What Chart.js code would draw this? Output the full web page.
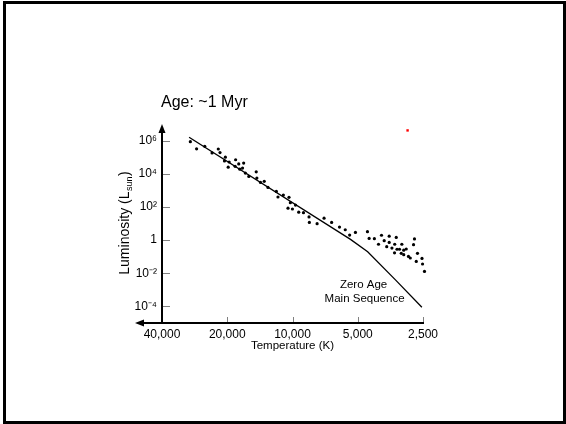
<!DOCTYPE html>
<html>
<head>
<meta charset="utf-8">
<script src="https://cdn.jsdelivr.net/npm/chart.js@4.4.1/dist/chart.umd.min.js"></script>
<style>
    html, body { margin: 0; padding: 0; background: #fff; }
    #wrap { position: relative; width: 566px; height: 424px; overflow: hidden; }
    #marco { position: absolute; left: 3px; top: 1px; width: 563px; height: 423px; box-sizing: border-box; border: 3px solid #000; }
    #hr { position: absolute; left: 0; top: 0; }
</style>
</head>
<body>
<div id="wrap">
    <div id="marco"></div>
    <canvas id="hr" width="566" height="424"></canvas>
</div>
<script>
// Cluster stars: surface temperature (K) and luminosity (L_sun)
const starTemps = [
    29600, 27700, 25400, 23500, 22000, 21600, 20400, 20600, 19600, 19800,
    18300, 18400, 17700, 17500, 16800, 17000, 16500, 15900, 14700, 14600,
    14050, 13500, 12980, 11870, 11670, 11020, 10380, 10230, 10490, 10010,
    9690, 9360, 8900, 8390, 8360, 7700, 7150, 6600, 6070, 5710,
    5450, 5125, 4510, 4430, 4190, 4010, 3885, 3775, 3580, 3580,
    3675, 3477, 3322, 3376, 3294, 3383, 3130, 3208, 3150, 3068,
    3068, 2987, 2918, 2862, 2737, 2764, 2651, 2685, 2527, 2512,
    2461, 2314, 2234, 2309, 2277
];
const starLums = [
    8.6e5, 3.2e5, 4.5e5, 1.8e5, 3.1e5, 1.9e5, 1.0e5, 5.9e4, 5.1e4, 2.5e4,
    7.0e4, 2.8e4, 3.9e4, 1.9e4, 4.4e4, 2.2e4, 1.1e4, 6.9e3, 1.3e4, 5.5e3,
    3.0e3, 3.5e3, 1.5e3, 860, 395, 520, 380, 180, 84, 75,
    130, 48, 45, 25, 11.6, 9.7, 21, 11.6, 6.1, 4.2,
    2.0, 2.9, 3.2, 1.26, 1.21, 0.56, 1.96, 0.92, 1.71, 0.72,
    0.40, 0.33, 1.45, 0.56, 0.28, 0.17, 0.56, 0.28, 0.16, 0.245,
    0.131, 0.29, 0.103, 0.083, 1.17, 0.525, 0.16, 0.052, 0.078, 0.036,
    0.0129, 0.122, 0.185, 0.0247, 0.0091
];

// Zero age main sequence
const zamsTemps = [30000, 5400, 4500, 3350, 2530];
const zamsLums = [1.6e6, 1.1, 0.2, 4e-3, 9e-5];

// Red marker
const markerTemps = [2945];
const markerLums = [4.1e6];

// Axis ticks
const tempTicks = [40000, 20000, 10000, 5000, 2500];
const lumTicks = [1e-4, 1e-2, 1, 1e2, 1e4, 1e6];
const lumTickLabels = ['10⁻⁴', '10⁻²', '1', '10²', '10⁴', '10⁶'];

const FUENTE = 'Arial, "Liberation Sans", Helvetica, sans-serif';

function puntos(xs, ys) {
    return xs.map((x, i) => ({ x: x, y: ys[i] }));
}

// Axes with arrows, inner tick marks, title and labels
const ejesPlugin = {
    id: 'ejesHR',
    afterDatasetsDraw(chart) {
        const ctx = chart.ctx;
        const a = chart.chartArea;
        const xs = chart.scales.x;
        const ys = chart.scales.y;
        const x0 = Math.round(a.left);
        const y0 = Math.round(a.bottom);
        ctx.save();

        // tick marks pointing into the plot
        ctx.strokeStyle = '#808080';
        ctx.lineWidth = 1;
        ctx.beginPath();
        lumTicks.forEach(v => {
            const py = Math.round(ys.getPixelForValue(v)) + 0.5;
            ctx.moveTo(x0, py);
            ctx.lineTo(x0 + 8, py);
        });
        tempTicks.slice(1).forEach(v => {
            const px = Math.round(xs.getPixelForValue(v)) + 0.5;
            ctx.moveTo(px, y0 - 6);
            ctx.lineTo(px, y0);
        });
        ctx.stroke();

        // vertical axis
        ctx.fillStyle = '#000';
        ctx.fillRect(x0 - 1, a.top + 6, 2, y0 - a.top - 5);
        // horizontal axis
        ctx.fillRect(x0 - 20, y0 - 1, Math.round(a.right) - x0 + 21, 2);

        // arrow heads
        ctx.beginPath();
        ctx.moveTo(x0, a.top);
        ctx.lineTo(x0 - 3.5, a.top + 9);
        ctx.lineTo(x0 + 3.5, a.top + 9);
        ctx.closePath();
        ctx.fill();
        ctx.beginPath();
        ctx.moveTo(x0 - 27, y0);
        ctx.lineTo(x0 - 18, y0 - 3.5);
        ctx.lineTo(x0 - 18, y0 + 3.5);
        ctx.closePath();
        ctx.fill();
        ctx.restore();
    },
    afterDraw(chart) {
        const ctx = chart.ctx;
        const a = chart.chartArea;
        const xs = chart.scales.x;
        const ys = chart.scales.y;
        ctx.save();
        ctx.fillStyle = '#000';

        // title
        ctx.font = '16px ' + FUENTE;
        ctx.textAlign = 'left';
        ctx.textBaseline = 'middle';
        ctx.fillText('Age: ~1 Myr', a.left - 1, a.top - 21);

        // y axis title with subscript
        ctx.translate(a.left - 33, (a.top + a.bottom) / 2);
        ctx.rotate(-Math.PI / 2);
        ctx.textBaseline = 'alphabetic';
        ctx.font = '14px ' + FUENTE;
        const t1 = 'Luminosity (L';
        const t3 = ')';
        const w1 = ctx.measureText(t1).width;
        const w3 = ctx.measureText(t3).width;
        ctx.font = '9px ' + FUENTE;
        const t2 = 'sun';
        const w2 = ctx.measureText(t2).width;
        const inicio = -(w1 + w2 + w3) / 2;
        ctx.font = '14px ' + FUENTE;
        ctx.fillText(t1, inicio, 0);
        ctx.font = '9px ' + FUENTE;
        ctx.fillText(t2, inicio + w1 + 0.5, 3);
        ctx.font = '14px ' + FUENTE;
        ctx.fillText(t3, inicio + w1 + w2 + 1, 0);
        ctx.setTransform(1, 0, 0, 1, 0, 0);

        // ZAMS label
        const lx = xs.getPixelForValue(4700);
        const ly = ys.getPixelForValue(2e-3);
        ctx.font = '11.5px ' + FUENTE;
        ctx.textAlign = 'center';
        ctx.textBaseline = 'middle';
        ctx.fillText('Zero Age', lx, ly);
        ctx.fillText('Main Sequence', lx + 1, ly + 14);
        ctx.restore();
    }
};

new Chart(document.getElementById('hr'), {
    type: 'scatter',
    data: {
        datasets: [{
            label: 'Zero Age Main Sequence',
            type: 'line',
            data: puntos(zamsTemps, zamsLums),
            borderColor: '#000',
            borderWidth: 1.3,
            pointRadius: 0,
            fill: false,
            tension: 0,
            clip: false
        }, {
            label: 'Stars',
            data: puntos(starTemps, starLums),
            backgroundColor: '#000',
            borderWidth: 0,
            pointRadius: 1.6,
            clip: false
        }, {
            label: 'Marker',
            data: puntos(markerTemps, markerLums),
            backgroundColor: '#ff0000',
            borderWidth: 0,
            pointStyle: 'rect',
            pointRadius: 1.7,
            clip: false
        }]
    },
    options: {
        responsive: false,
        animation: false,
        events: [],
        layout: {
            padding: { left: 112, right: 143, top: 124, bottom: 71 }
        },
        plugins: {
            legend: { display: false },
            tooltip: { enabled: false }
        },
        scales: {
            x: {
                type: 'logarithmic',
                reverse: true,
                min: 2500,
                max: 40000,
                grid: { display: false, drawTicks: false },
                border: { display: false },
                afterBuildTicks: function(scale) {
                    scale.ticks = tempTicks.map(v => ({ value: v }));
                },
                afterFit: function(scale) {
                    scale.height = 30;
                },
                ticks: {
                    autoSkip: false,
                    maxRotation: 0,
                    padding: 4,
                    color: '#000',
                    font: { family: FUENTE, size: 12 },
                    callback: function(value) {
                        return Number(value).toLocaleString('en-US');
                    }
                },
                title: {
                    display: true,
                    text: 'Temperature (K)',
                    color: '#000',
                    font: { family: FUENTE, size: 11.5 },
                    padding: 0
                }
            },
            y: {
                type: 'logarithmic',
                min: 1e-5,
                max: 1e7,
                grid: { display: false, drawTicks: false },
                border: { display: false },
                afterBuildTicks: function(scale) {
                    scale.ticks = lumTicks.map(v => ({ value: v }));
                },
                afterFit: function(scale) {
                    scale.width = 50;
                },
                ticks: {
                    autoSkip: false,
                    padding: 5,
                    color: '#000',
                    font: { family: FUENTE, size: 12 },
                    callback: function(value) {
                        const i = lumTicks.indexOf(value);
                        return i >= 0 ? lumTickLabels[i] : '';
                    }
                }
            }
        }
    },
    plugins: [ejesPlugin]
});
</script>
</body>
</html>
